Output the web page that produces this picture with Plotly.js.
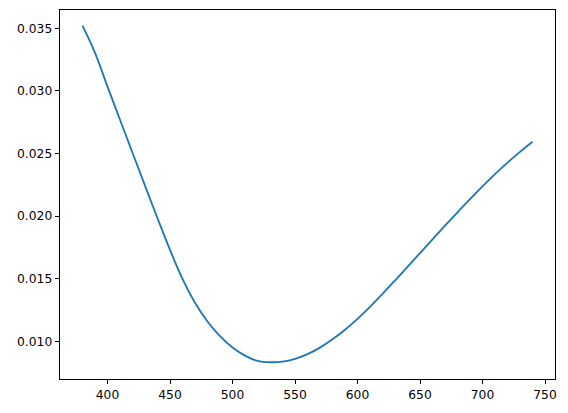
<!DOCTYPE html>
<html>
<head>
<meta charset="utf-8">
<script src="https://cdn.plot.ly/plotly-3.0.1.min.js"></script>
<style>html,body{margin:0;padding:0;background:#fff;}#chart{width:568px;height:413px;}</style>
</head>
<body>
<div id="chart"></div>
<script>
const wavelengths = [380,390,400,410,420,430,440,450,460,470,480,490,500,510,520,530,540,550,560,570,580,590,600,610,620,630,640,650,660,670,680,690,700,710,720,730,740];
const values = [0.03522,0.03305,0.03035,0.02770,0.02506,0.02243,0.01983,0.01730,0.01498,0.01308,0.01158,0.01040,0.00950,0.00885,0.00843,0.00832,0.00837,0.00859,0.00897,0.00949,0.01015,0.01092,0.01179,0.01275,0.01378,0.01485,0.01594,0.01704,0.01814,0.01923,0.02030,0.02135,0.02237,0.02335,0.02427,0.02513,0.02594];
const xTicks = [400,450,500,550,600,650,700,750];
const yTicks = [0.010,0.015,0.020,0.025,0.030,0.035];

const trace = {
  x: wavelengths, y: values, type: 'scatter', mode: 'lines',
  line: {color: '#1f77b4', width: 1.85, shape: 'spline', smoothing: 1}
};
const axisCommon = {
  showline: true, mirror: true, linecolor: '#000', linewidth: 1,
  ticks: 'outside', ticklen: 4.3, tickwidth: 1, tickcolor: '#000',
  showgrid: false, zeroline: false,
  tickfont: {family: 'DejaVu Sans', size: 12.3, color: '#000'}
};
const layout = {
  width: 568, height: 413,
  margin: {l: 60, r: 13, t: 10, b: 34, pad: 0},
  paper_bgcolor: '#fff', plot_bgcolor: '#fff',
  showlegend: false,
  xaxis: Object.assign({}, axisCommon, {range: [362, 758], tickvals: xTicks, ticktext: xTicks.map(String)}),
  yaxis: Object.assign({}, axisCommon, {range: [0.00698, 0.03647], tickvals: yTicks, ticktext: yTicks.map(v => v.toFixed(3))})
};
Plotly.newPlot('chart', [trace], layout, {displayModeBar: false, staticPlot: true});
</script>
</body>
</html>
